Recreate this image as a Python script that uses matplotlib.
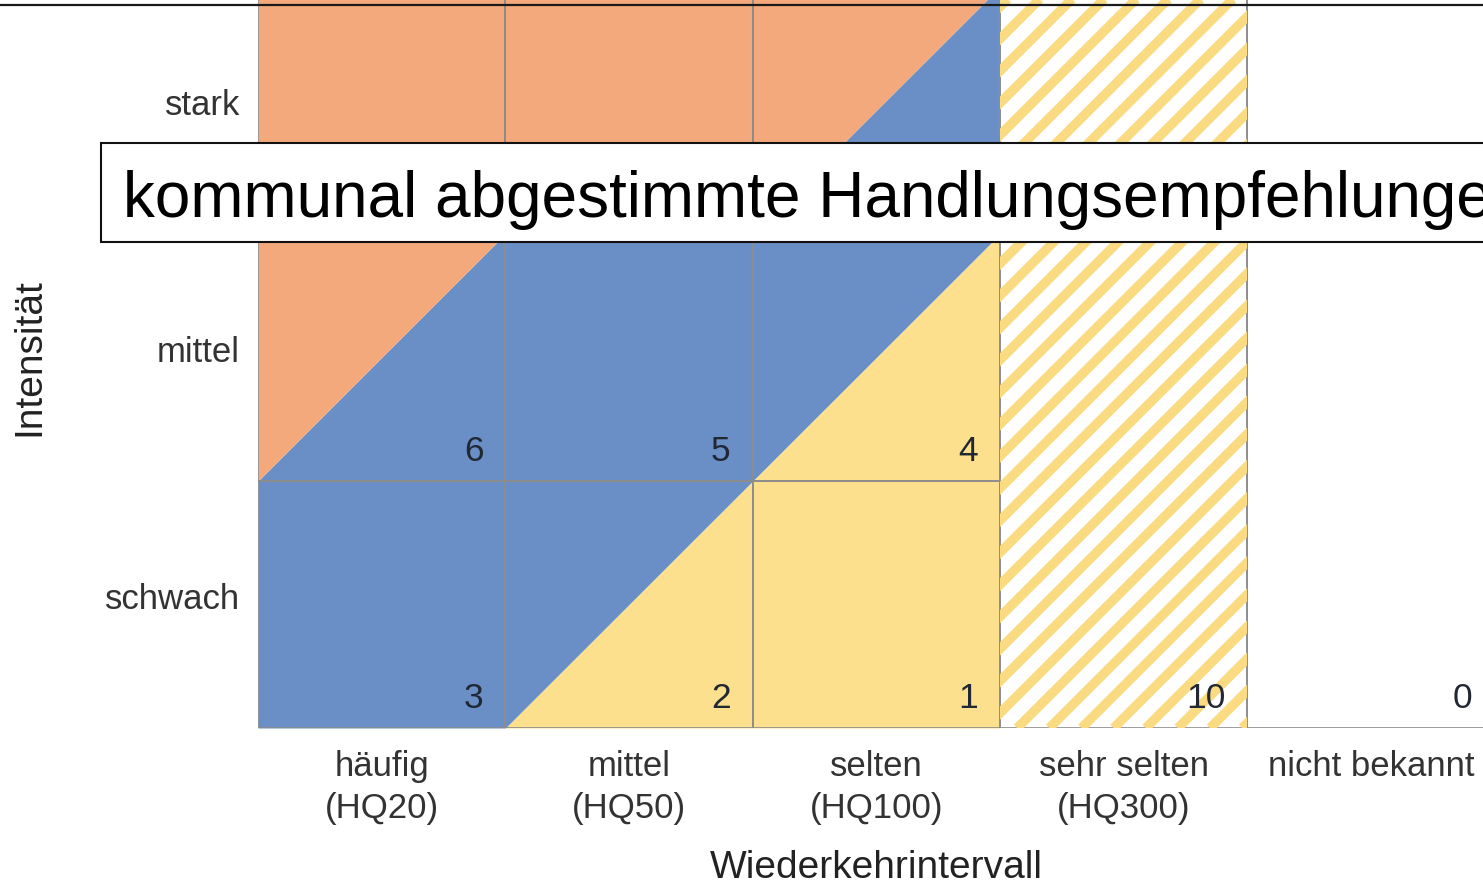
import matplotlib
matplotlib.use("Agg")
import matplotlib.pyplot as plt
from matplotlib.patches import Rectangle
import numpy as np

plt.rcParams['font.family'] = ['Liberation Sans', 'DejaVu Sans']

# data
intervals = ['häufig\n(HQ20)', 'mittel\n(HQ50)', 'selten\n(HQ100)',
             'sehr selten\n(HQ300)', 'nicht bekannt']
intensities = ['schwach', 'mittel', 'stark']

# zone boundaries over the first three columns
zone_x = [0, 1, 2, 3]
low_limit = [0, 0, 1, 2]    # yellow / blue
high_limit = [1, 2, 2, 3]   # blue / orange

# cell numbers
num_cols = [0, 1, 2, 0, 1, 2, 3, 4]
num_rows = [1, 1, 1, 0, 0, 0, 0, 0]
num_vals = ['6', '5', '4', '3', '2', '1', '10', '0']

box_text = 'kommunal abgestimmte Handlungsempfehlungen'

ORANGE = '#F3A97B'
BLUE = '#6A8FC7'
YELLOW = '#FDE08D'
STRIPE = '#FADB82'
GRID = '#8C8C8C'

W, H = 1483, 888
fig = plt.figure(figsize=(W/100, H/100), dpi=100)
ax = fig.add_axes([258/W, 160/H, 5*247.3/W, 741/H])
ax.set_xlim(0, 5)
ax.set_ylim(0, 3)

ax.fill_between(zone_x, 0, low_limit, color=YELLOW, lw=0)
ax.fill_between(zone_x, low_limit, high_limit, color=BLUE, lw=0)
ax.fill_between(zone_x, high_limit, 3, color=ORANGE, lw=0)

# hatched column
clip = Rectangle((3, 0), 1, 3, facecolor='white', edgecolor='none')
ax.add_patch(clip)
for k in np.arange(-3.05, 1.1, 0.13):
    ln, = ax.plot([3 + k, 6 + k], [0, 3], color=STRIPE, lw=6.8,
                  solid_capstyle='butt')
    ln.set_clip_path(clip)

# grid
for c in range(3):
    for r in range(3):
        ax.add_patch(Rectangle((c, r), 1, 1, fill=False, edgecolor=GRID, lw=1.2))
ax.add_patch(Rectangle((3, 0), 1, 3, fill=False, edgecolor=GRID, lw=1.2))
ax.add_patch(Rectangle((4, 0), 1, 3, fill=False, edgecolor=GRID, lw=1.2))

for c, r, v in zip(num_cols, num_rows, num_vals):
    ax.text(c + 0.911, r + 0.118, v, ha='right', va='center',
            fontsize=25.5, color='#222833')

for s in ax.spines.values():
    s.set_visible(False)
ax.set_xticks(np.arange(len(intervals)) + 0.5)
ax.set_xticklabels(intervals, fontsize=25, color='#333333', linespacing=1.33)
ax.set_yticks(np.arange(len(intensities)) + 0.535)
ax.set_yticklabels(intensities, fontsize=25, color='#333333')
ax.tick_params(axis='x', length=0, pad=16)
ax.tick_params(axis='y', length=0, pad=13)

ax.set_xlabel('Wiederkehrintervall', fontsize=28, color='#222222')
ax.xaxis.set_label_coords(0.5, -(850 - 728)/741)
ax.set_ylabel('Intensität', fontsize=28, color='#222222')
ax.yaxis.set_label_coords(-(258 - 47)/1236.5, 0.5)

# overlay box and top rule
fig.add_artist(Rectangle((101/W, (H - 242)/H), 1.2, 99/H, transform=fig.transFigure,
                         facecolor='white', edgecolor='#111111', lw=1.5, zorder=10))
fig.text(123/W, (H - 217)/H, box_text, fontsize=46, color='black',
         ha='left', va='baseline', zorder=11)
fig.add_artist(plt.Line2D([0, 1], [(H - 5)/H, (H - 5)/H], transform=fig.transFigure,
                          color='#1a1a1a', lw=1.6, zorder=12))

fig.savefig('out.png', dpi=100)
